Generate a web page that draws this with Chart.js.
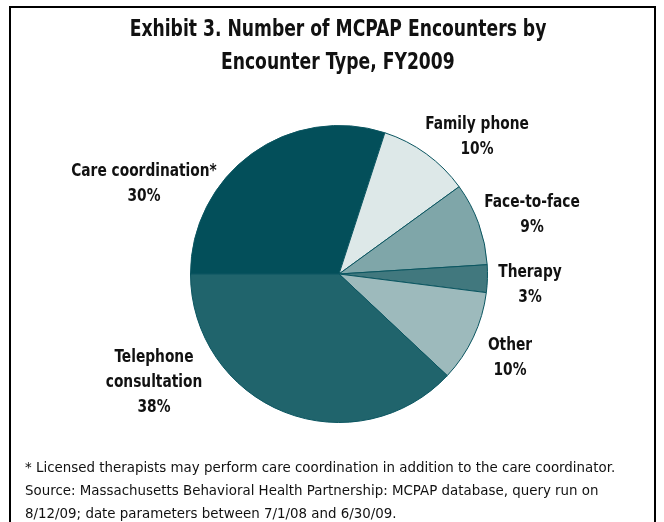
<!DOCTYPE html>
<html>
<head>
<meta charset="utf-8">
<script src="https://cdn.jsdelivr.net/npm/chart.js@4"></script>
<style>
  html, body { margin: 0; padding: 0; background: #fff; }
  #wrap { position: relative; width: 664px; height: 522px; overflow: hidden; }
  #frame { position: absolute; left: 9px; top: 6px; width: 647px; height: 560px; border: 2px solid #000; box-sizing: border-box; }
  #title { position: absolute; left: 0; width: 676px; top: 12px; text-align: center;
           font-family: "DejaVu Sans Condensed", "Liberation Sans", sans-serif; font-weight: bold;
           font-size: 23px; line-height: 33px; color: #111; }
  #title span { display: inline-block; transform: scaleX(0.83); transform-origin: 50% 50%; white-space: nowrap; }
  #note { position: absolute; left: 25px; top: 456px; font-family: "DejaVu Sans", Verdana, sans-serif;
          font-size: 13.4px; line-height: 23px; color: #111; white-space: nowrap; }
  canvas { position: absolute; left: 0; top: 0; }
</style>
</head>
<body>
<div id="wrap">
  <div id="frame"></div>
  <canvas id="c" width="664" height="522"></canvas>
  <div id="title"><span>Exhibit 3. Number of MCPAP Encounters by</span><br><span>Encounter Type, FY2009</span></div>
  <div id="note">* Licensed therapists may perform care coordination in addition to the care coordinator.<br>Source: Massachusetts Behavioral Health Partnership: MCPAP database, query run on<br>8/12/09; date parameters between 7/1/08 and 6/30/09.</div>
</div>
<script>
const categories = ['Care coordination*', 'Family phone', 'Face-to-face', 'Therapy', 'Other', 'Telephone consultation'];
const labelLines = [['Care coordination*'], ['Family phone'], ['Face-to-face'], ['Therapy'], ['Other'], ['Telephone', 'consultation']];
const values = [30, 10, 9, 3, 10, 38];
const colors = ['#034f5a', '#dde8e8', '#7fa6a9', '#41787e', '#9dbabc', '#20646c'];
// label anchor offsets from the pie centre (layout only)
const labelOffsets = [[-195, -102], [138, -149], [193, -71], [191, -1], [171, 72], [-185, 84]];

const sliceLabels = {
  id: 'sliceLabels',
  afterDraw(chart) {
    const ctx = chart.ctx;
    const meta = chart.getDatasetMeta(0);
    const cx = meta.data[0].x, cy = meta.data[0].y;
    ctx.save();
    ctx.font = 'bold 17px "DejaVu Sans Condensed", "Liberation Sans", sans-serif';
    ctx.fillStyle = '#111';
    ctx.textAlign = 'center';
    ctx.textBaseline = 'middle';
    labelLines.forEach((lines, i) => {
      const [dx, dy] = labelOffsets[i];
      const all = lines.concat([values[i] + '%']);
      all.forEach((t, j) => {
        ctx.save();
        ctx.translate(cx + dx, cy + dy + j * 25);
        ctx.scale(0.9, 1);
        ctx.fillText(t, 0, 0);
        ctx.restore();
      });
    });
    ctx.restore();
  }
};

new Chart(document.getElementById('c'), {
  type: 'pie',
  data: {
    labels: categories,
    datasets: [{
      data: values,
      backgroundColor: colors,
      borderColor: '#0a5560',
      borderWidth: 1
    }]
  },
  options: {
    responsive: false,
    animation: false,
    rotation: -90,
    layout: { padding: { left: 190, right: 176, top: 125, bottom: 99 } },
    plugins: { legend: { display: false }, tooltip: { enabled: false }, title: { display: false } }
  },
  plugins: [sliceLabels]
});
</script>
</body>
</html>
